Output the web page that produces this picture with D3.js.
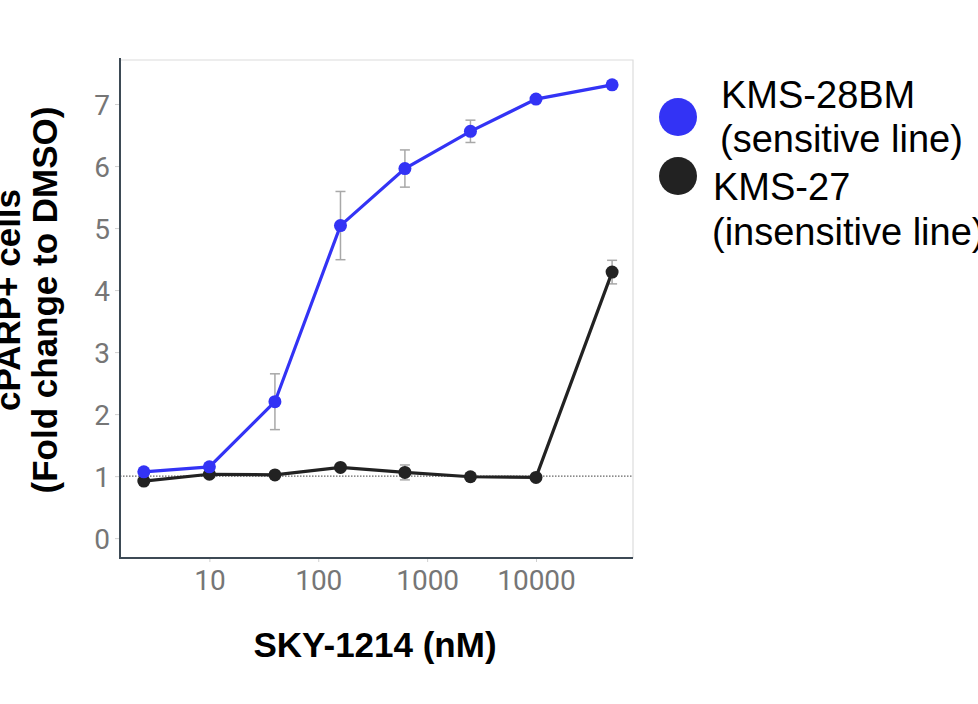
<!DOCTYPE html>
<html>
<head>
<meta charset="utf-8">
<script src="https://cdn.jsdelivr.net/npm/d3@7"></script>
<style>
  html, body { margin: 0; padding: 0; background: #fff; }
  svg { display: block; }
</style>
</head>
<body>
<svg id="chart" width="978" height="704"></svg>
<script>
// ---- Data ----
const concentrations = [2.5, 10, 40, 160, 625, 2500, 10000, 50000];
const sensitiveValues = [1.07, 1.15, 2.20, 5.04, 5.96, 6.56, 7.08, 7.31];
const sensitiveErrors = [0.03, 0.03, 0.45, 0.55, 0.30, 0.18, 0.05, 0.0];
const insensitiveValues = [0.92, 1.03, 1.02, 1.14, 1.06, 0.99, 0.98, 4.29];
const insensitiveErrors = [0.02, 0.02, 0.02, 0.02, 0.12, 0.02, 0.02, 0.19];
const xTickValues = [10, 100, 1000, 10000];
const yTickValues = [0, 1, 2, 3, 4, 5, 6, 7];
const seriesNames = ["KMS-28BM", "KMS-27"];
const seriesSubtitles = ["(sensitive line)", "(insensitive line)"];
const seriesColors = ["#3333f5", "#222222"];
const xTitle = "SKY-1214 (nM)";
const yTitleLines = ["cPARP+ cells", "(Fold change to DMSO)"];

// ---- Layout ----
const svg = d3.select("#chart");
const plot = { left: 120, right: 633, top: 60, bottom: 558 };

const x = d3.scaleLog().domain([1.51, 77800]).range([plot.left, plot.right]);
const y = d3.scaleLinear().domain([-0.32, 7.71]).range([plot.bottom, plot.top]);

// frame (top/right light borders)
svg.append("path")
  .attr("d", `M${plot.left},${plot.top}H${plot.right}V${plot.bottom}`)
  .attr("fill", "none").attr("stroke", "#dcdcdc").attr("stroke-width", 1.2);

// reference dotted line at 1
svg.append("line")
  .attr("x1", plot.left).attr("x2", plot.right)
  .attr("y1", y(1)).attr("y2", y(1))
  .attr("stroke", "#666").attr("stroke-width", 1.3)
  .attr("stroke-dasharray", "1.5,1.5");

// axes
const yAxis = d3.axisLeft(y).tickValues(yTickValues).tickFormat(d3.format("d"))
  .tickSize(5).tickPadding(5);
const xAxis = d3.axisBottom(x).tickValues(xTickValues).tickFormat(d3.format("d"))
  .tickSize(4).tickPadding(7);

const gy = svg.append("g").attr("transform", `translate(${plot.left},0)`).call(yAxis);
const gx = svg.append("g").attr("transform", `translate(0,${plot.bottom})`).call(xAxis);

[gx, gy].forEach(g => {
  g.select(".domain").remove();
  g.selectAll(".tick line").attr("stroke", "#d0d0d0").attr("stroke-width", 1);
  g.selectAll(".tick text")
    .attr("fill", "#767676")
    .style("font-family", "Roboto, 'Noto Sans', sans-serif")
    .style("font-size", "28px");
});
gy.selectAll(".tick text").attr("dy", "0.36em");
gx.selectAll(".tick text").attr("dy", "0.76em");

// axis lines (dark)
svg.append("line")
  .attr("x1", plot.left).attr("x2", plot.left)
  .attr("y1", plot.top - 2).attr("y2", plot.bottom + 1)
  .attr("stroke", "#3d4a55").attr("stroke-width", 2);
svg.append("line")
  .attr("x1", plot.left).attr("x2", plot.right)
  .attr("y1", plot.bottom).attr("y2", plot.bottom)
  .attr("stroke", "#3d4a55").attr("stroke-width", 2);

// series
const series = [
  { values: sensitiveValues, errors: sensitiveErrors, color: seriesColors[0] },
  { values: insensitiveValues, errors: insensitiveErrors, color: seriesColors[1] }
];

const line = d3.line().x(d => x(d.c)).y(d => y(d.v));

// draw order: black first, then blue on top
[series[1], series[0]].forEach(s => {
  const pts = concentrations.map((c, i) => ({ c, v: s.values[i], e: s.errors[i] }));
  const g = svg.append("g");
  // error bars
  pts.filter(p => p.e > 0.04).forEach(p => {
    const eg = g.append("g").attr("stroke", "#a8a8a8").attr("stroke-width", 1.5);
    eg.append("line").attr("x1", x(p.c)).attr("x2", x(p.c))
      .attr("y1", y(p.v - p.e)).attr("y2", y(p.v + p.e));
    [p.v - p.e, p.v + p.e].forEach(v => {
      eg.append("line").attr("x1", x(p.c) - 5).attr("x2", x(p.c) + 5)
        .attr("y1", y(v)).attr("y2", y(v));
    });
  });
  g.append("path").datum(pts).attr("d", line)
    .attr("fill", "none").attr("stroke", s.color).attr("stroke-width", 3.2);
  g.selectAll("circle").data(pts).join("circle")
    .attr("cx", p => x(p.c)).attr("cy", p => y(p.v)).attr("r", 6.5)
    .attr("fill", s.color);
});

// x title
svg.append("text")
  .attr("x", 375).attr("y", 657)
  .attr("text-anchor", "middle")
  .style("font-family", "'Liberation Sans', Arial, sans-serif")
  .style("font-weight", "bold").style("font-size", "35px")
  .attr("fill", "#000")
  .text(xTitle);

// y title
const yBaselines = [20, 57];
yTitleLines.forEach((t, i) => {
  svg.append("text")
    .attr("transform", `translate(${yBaselines[i]},300) rotate(-90)`)
    .attr("text-anchor", "middle")
    .style("font-family", "'Liberation Sans', Arial, sans-serif")
    .style("font-weight", "bold").style("font-size", "35px")
    .attr("fill", "#000")
    .text(t);
});

// legend
const legend = [
  { cy: 117, tx: 721, ty1: 108, ty2: 152 },
  { cy: 176, tx: 713, ty1: 200, ty2: 245 }
];
legend.forEach((l, i) => {
  svg.append("circle").attr("cx", 678).attr("cy", l.cy).attr("r", 19)
    .attr("fill", seriesColors[i]);
  const txt = svg.append("text")
    .style("font-family", "'Liberation Sans', Arial, sans-serif")
    .style("font-size", "38px").attr("fill", "#000");
  txt.append("tspan").attr("x", l.tx).attr("y", l.ty1).text(seriesNames[i]);
  txt.append("tspan").attr("x", l.tx - 1).attr("y", l.ty2).text(seriesSubtitles[i]);
});
</script>
</body>
</html>
